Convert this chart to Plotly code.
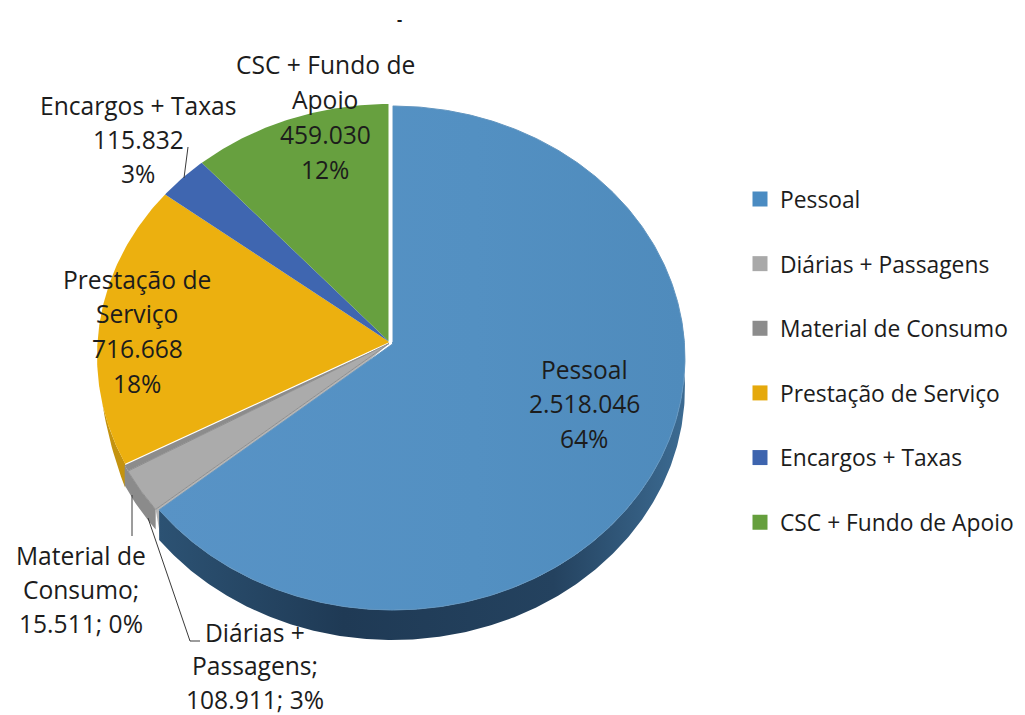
import math
import plotly.graph_objects as go

categories = ["Pessoal", "Diárias + Passagens", "Material de Consumo",
              "Prestação de Serviço", "Encargos + Taxas", "CSC + Fundo de Apoio"]
values = [2518046, 108911, 15511, 716668, 115832, 459030]
legend_colors = ["#4a8bc2", "#a9a9a9", "#8c8c8c", "#e5a90c", "#3d64ae", "#659f3d"]
top_colors = ["#5190c3", "#ababab", "#8c8c8c", "#ecb00f", "#3f66b0", "#67a03f"]

label_lines = [
    ["Pessoal", "2.518.046", "64%"],
    ["Diárias +", "Passagens;", "108.911; 3%"],
    ["Material de", "Consumo;", "15.511; 0%"],
    ["Prestação de", "Serviço", "716.668", "18%"],
    ["Encargos + Taxas", "115.832", "3%"],
    ["CSC + Fundo de", "Apoio", "459.030", "12%"],
]
label_anchor = [(584, 369), (255, 632), (81, 555), (137, 279), (138, 105), (325, 64)]
label_step = [34.5, 33.5, 34, 34.7, 34, 35]

CX, CY, A, H, K = 389.5, 342, 292, 251.2, 0.0556
DEPTH = 30
FONT = "Open Sans"
FS = 24.6

total = sum(values)
edges = [0]
for v in values:
    edges.append(edges[-1] + v / total * 360)


def rim(deg, dx=0, dy=0):
    t = math.radians(deg)
    u, v = math.sin(t), math.cos(t)
    d = 1 + K * v
    return CX + dx + A * u / d, CY + dy - H * v / d


def arc(a0, a1, dx=0, dy=0):
    n = max(2, int(abs(a1 - a0) * 2))
    return [rim(a0 + (a1 - a0) * i / n, dx, dy) for i in range(n + 1)]


fig = go.Figure()


def poly(pts, color=None, gradient=None, line=None):
    xs = [p[0] for p in pts] + [pts[0][0]]
    ys = [p[1] for p in pts] + [pts[0][1]]
    kw = dict(fillgradient=gradient) if gradient else dict(fillcolor=color)
    fig.add_trace(go.Scatter(x=xs, y=ys, mode="lines", fill="toself",
                             line=dict(width=1 if line else 0, color=line or "rgba(0,0,0,0)"),
                             hoverinfo="skip", showlegend=False, **kw))


BLUE_OFF = (3, 2)
GRAY_OFF = (-0.5, 1.5)

# side walls
tapered = [rim(edges[3] + s, 0, 24 * (1 - s / 14)) for s in range(15)]
poly(arc(edges[3], edges[3] + 14) + tapered[::-1], "#c4930f")
g0 = arc(edges[1], edges[3], *GRAY_OFF)
poly(g0 + arc(edges[3], edges[1], GRAY_OFF[0], GRAY_OFF[1] + 20), "#8b8b8b")
# cut face of grey slice next to the blue slice
e = rim(edges[1], *GRAY_OFF)
poly([(CX + GRAY_OFF[0], CY + GRAY_OFF[1]), e, (e[0] + 5, e[1] + 29)], "#b5b5b5")
poly(arc(84, edges[1], *BLUE_OFF) + arc(edges[1], 84, BLUE_OFF[0], BLUE_OFF[1] + DEPTH),
     gradient=dict(type="horizontal",
                   colorscale=[[0, "#2c5273"], [0.35, "#1f3a55"], [0.75, "#24425f"], [1, "#3c6b92"]]))

# top faces
offsets = [BLUE_OFF, GRAY_OFF, GRAY_OFF, (0, 0), (0, 0), (0, 0)]
for i in [3, 4, 5, 2, 1, 0]:
    dx, dy = offsets[i]
    pts = [(CX + dx, CY + dy)] + arc(edges[i], edges[i + 1], dx, dy)
    if i == 0:
        poly(pts, gradient=dict(type="horizontal",
                                colorscale=[[0, "#5893c6"], [0.6, "#5390c2"], [1, "#4f8bbc"]]),
             line="#6396c0")
    elif i == 1:
        poly(pts, top_colors[i], line="#8f8f8f")
    else:
        poly(pts, top_colors[i])

# white gap at twelve o'clock
top = rim(0)
fig.add_shape(type="line", x0=CX + 1, y0=CY, x1=top[0] + 1, y1=top[1] - 3,
              line=dict(color="white", width=4))

# legend entries
for name, col in zip(categories, legend_colors):
    fig.add_trace(go.Scatter(x=[None], y=[None], mode="markers", name=name, legendgroup=name,
                             marker=dict(symbol="square", size=15, color=col)))

# leader lines
for path in ["M188,147 L184,178", "M132,495 L132,536", "M148,518 L190,641 L200,641"]:
    fig.add_shape(type="path", path=path, line=dict(color="#3a3a3a", width=1))

# data labels, one annotation per text line
for lines, (x, y), step in zip(label_lines, label_anchor, label_step):
    for j, text in enumerate(lines):
        fig.add_annotation(x=x, y=y + j * step, text=text, showarrow=False,
                           xanchor="center", yanchor="middle",
                           font=dict(family=FONT, size=FS, color="#1c1c1c"))
fig.add_annotation(x=399, y=19, text="<b>-</b>", showarrow=False,
                   font=dict(family=FONT, size=16, color="#1c1c1c"))

# The page has an 8 px body margin: the axes are ranged so data units equal window pixels.
fig.update_layout(
    width=1025, height=707, margin=dict(l=0, r=0, t=0, b=0),
    paper_bgcolor="white", plot_bgcolor="white",
    xaxis=dict(range=[8, 1033], visible=False, fixedrange=True),
    yaxis=dict(range=[715, 8], visible=False, fixedrange=True),
    legend=dict(x=732 / 1025, y=0.760, xanchor="left", yanchor="top", tracegroupgap=32,
                itemclick=False, itemdoubleclick=False, bgcolor="rgba(0,0,0,0)",
                font=dict(family=FONT, size=22.8, color="#1c1c1c")),
)
fig.write_html("out.html")
